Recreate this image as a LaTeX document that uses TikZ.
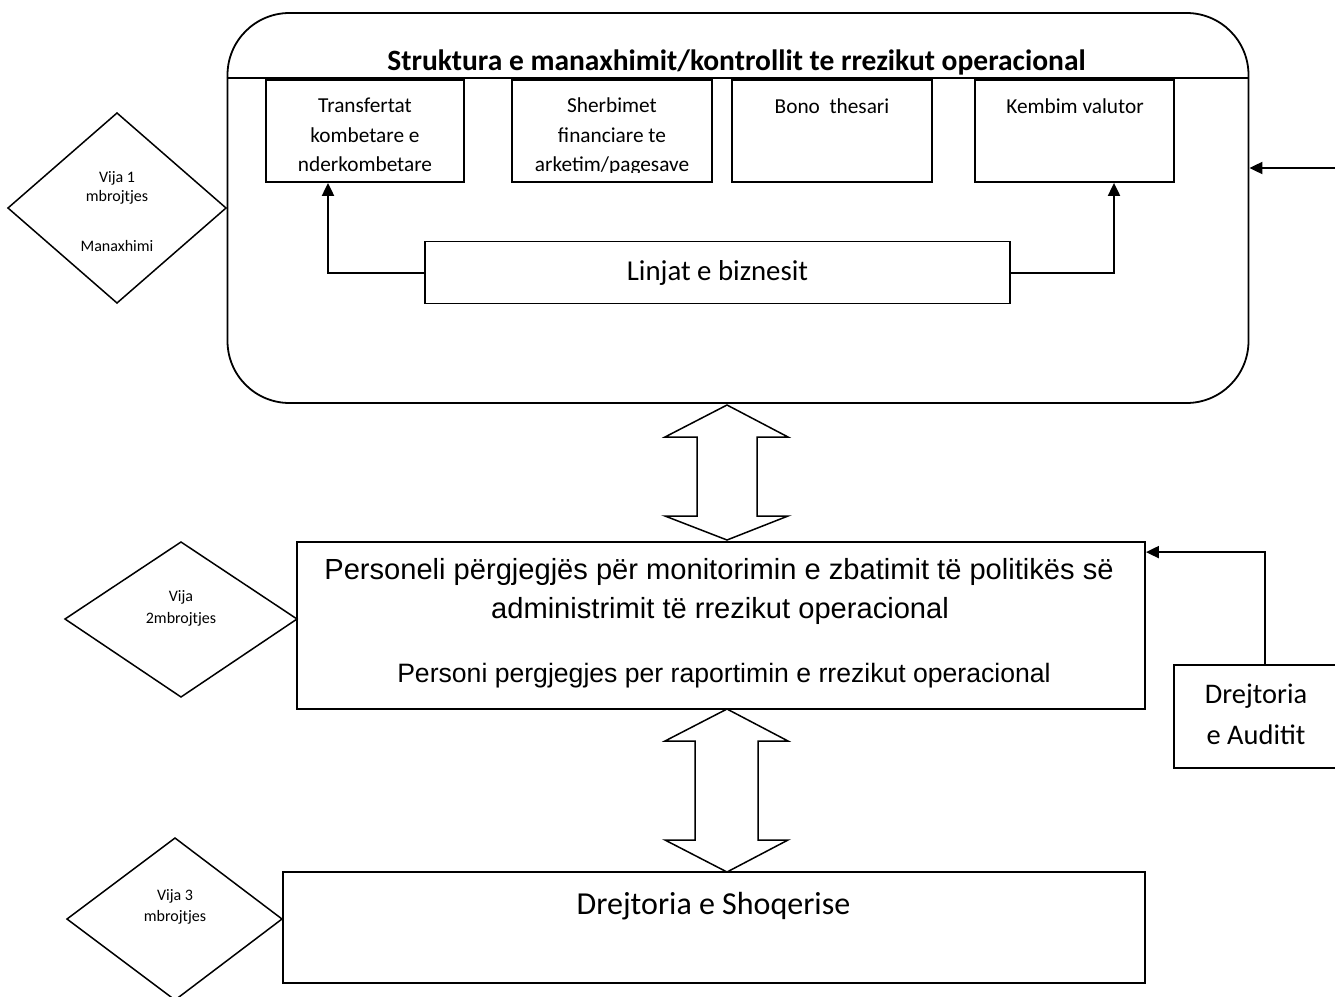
\documentclass[tikz,border=0pt]{standalone}
\usepackage{fontspec}
\setmainfont{Carlito}
\newfontfamily\arialf{Liberation Sans}
\usetikzlibrary{arrows.meta}
\begin{document}
\begin{tikzpicture}[x=1pt,y=-1pt,
  box/.style={draw,line width=1.8pt,inner sep=0pt},
  conn/.style={line width=2pt,-{Triangle[length=13pt,width=12pt]}},
  shp/.style={line width=1.5pt,line join=miter},
  txt/.style={inner sep=0pt,anchor=base},
  fsmall/.style={font=\fontsize{16}{18}\selectfont},
  fbox/.style={font=\fontsize{21.3}{24}\selectfont}]
\useasboundingbox (0,0) rectangle (1335,996);
\clip (0,0) rectangle (1335,996);

% big rounded frame
\node[box,rounded corners=62pt,minimum width=1021pt,minimum height=390pt] (big) at (738,208) {};
\draw[line width=1.6pt] ([yshift=130pt]big.west) -- ([yshift=130pt]big.east);
\node[txt,font=\bfseries\fontsize{29.5}{31}\selectfont] (title) at (736.5,70) {Struktura e manaxhimit/kontrollit te rrezikut operacional};

% top boxes
\node[box,minimum width=198pt,minimum height=102pt] (t1) at (365,131) {};
\node[box,minimum width=200pt,minimum height=102pt] (t2) at (612,131) {};
\node[box,minimum width=200pt,minimum height=102pt] (t3) at (832,131) {};
\node[box,minimum width=199pt,minimum height=102pt] (t4) at (1074.5,131) {};

\begin{scope}
\clip (266,80) rectangle (464,172);
\node[txt,fbox] (t1a) at (365,112) {Transfertat};
\node[txt,fbox] (t1b) at (365,142) {kombetare e};
\node[txt,fbox] (t1c) at (365,171.5) {nderkombetare};
\end{scope}
\begin{scope}
\clip (512,80) rectangle (712,172);
\node[txt,fbox] (t2a) at (612,112) {Sherbimet};
\node[txt,fbox] (t2b) at (612,142) {financiare te};
\node[txt,fbox] (t2c) at (612,171.5) {arketim/pagesave};
\end{scope}
\node[txt,fbox] (t3a) at (832,113) {Bono\ \ thesari};
\node[txt,fbox] (t4a) at (1075,113) {Kembim valutor};

% business lines
\node[box,minimum width=585pt,minimum height=62pt] (lin) at (717.5,272.5) {};
\node[txt,font=\fontsize{28.8}{30}\selectfont] (lint) at (717.5,280) {Linjat e biznesit};
\draw[conn] (lin.west) -| ([xshift=-37pt]t1.south);
\draw[conn] (lin.east) -| ([xshift=39.5pt]t4.south);

% incoming arrow right
\coordinate (rin) at (1345,168);
\draw[conn] (rin) -- ([yshift=40pt]big.east);

% diamond 1
\draw[shp] (8,208) -- (117,113) -- (226,208) -- (117,303) -- cycle;
\node[txt,fsmall] (d1a) at (117,182) {Vija 1};
\node[txt,fsmall] (d1b) at (117,201) {mbrojtjes};
\begin{scope}
\clip (0,230) rectangle (230,252);
\node[txt,fsmall] (d1c) at (117,251) {Manaxhimi};
\end{scope}

% double arrow 1
\draw[shp] (727,405) -- (788,437) -- (757,437) -- (757,516) -- (788,516) -- (727,540)
  -- (665,516) -- (697,516) -- (697,437) -- (665,437) -- cycle;

% middle box
\node[box,minimum width=848pt,minimum height=167pt] (mid) at (721,625.5) {};
\node[txt,font=\arialf\fontsize{29.1}{31}\selectfont] (m1) at (719,579) {Personeli përgjegjës për monitorimin e zbatimit të politikës së};
\node[txt,font=\arialf\fontsize{29.1}{31}\selectfont] (m2) at (720,618) {administrimit të rrezikut operacional};
\node[txt,font=\arialf\fontsize{26.6}{28}\selectfont] (m3) at (724,682) {Personi pergjegjes per raportimin e rrezikut operacional};

% diamond 2
\draw[shp] (65,619) -- (181,542) -- (297,619) -- (181,697) -- cycle;
\node[txt,fsmall] (d2a) at (181,601) {Vija};
\node[txt,fsmall] (d2b) at (181,623) {2mbrojtjes};

% audit
\node[box,minimum width=180pt,minimum height=103pt] (aud) at (1264,716.5) {};
\node[txt,font=\fontsize{28.4}{30}\selectfont] (auda) at (1256,703) {Drejtoria};
\node[txt,font=\fontsize{28.4}{30}\selectfont] (audb) at (1256,744) {e Auditit};
\draw[conn] ([xshift=1pt]aud.north) |- ([yshift=-11pt]mid.north east);

% double arrow 2
\draw[shp] (727,709) -- (788,741) -- (758,741) -- (758,840) -- (788,840) -- (727,872)
  -- (665,840) -- (695,840) -- (695,741) -- (665,741) -- cycle;

% lower box
\node[box,minimum width=862pt,minimum height=111pt] (low) at (714,927.5) {};
\node[txt,font=\fontsize{32}{34}\selectfont] (lowt) at (713.5,914) {Drejtoria e Shoqerise};

% diamond 3
\draw[shp] (67,919) -- (175,838) -- (282,919) -- (175,1000) -- cycle;
\node[txt,fsmall] (d3a) at (175,900) {Vija 3};
\node[txt,fsmall] (d3b) at (175,921) {mbrojtjes};
\end{tikzpicture}
\end{document}
